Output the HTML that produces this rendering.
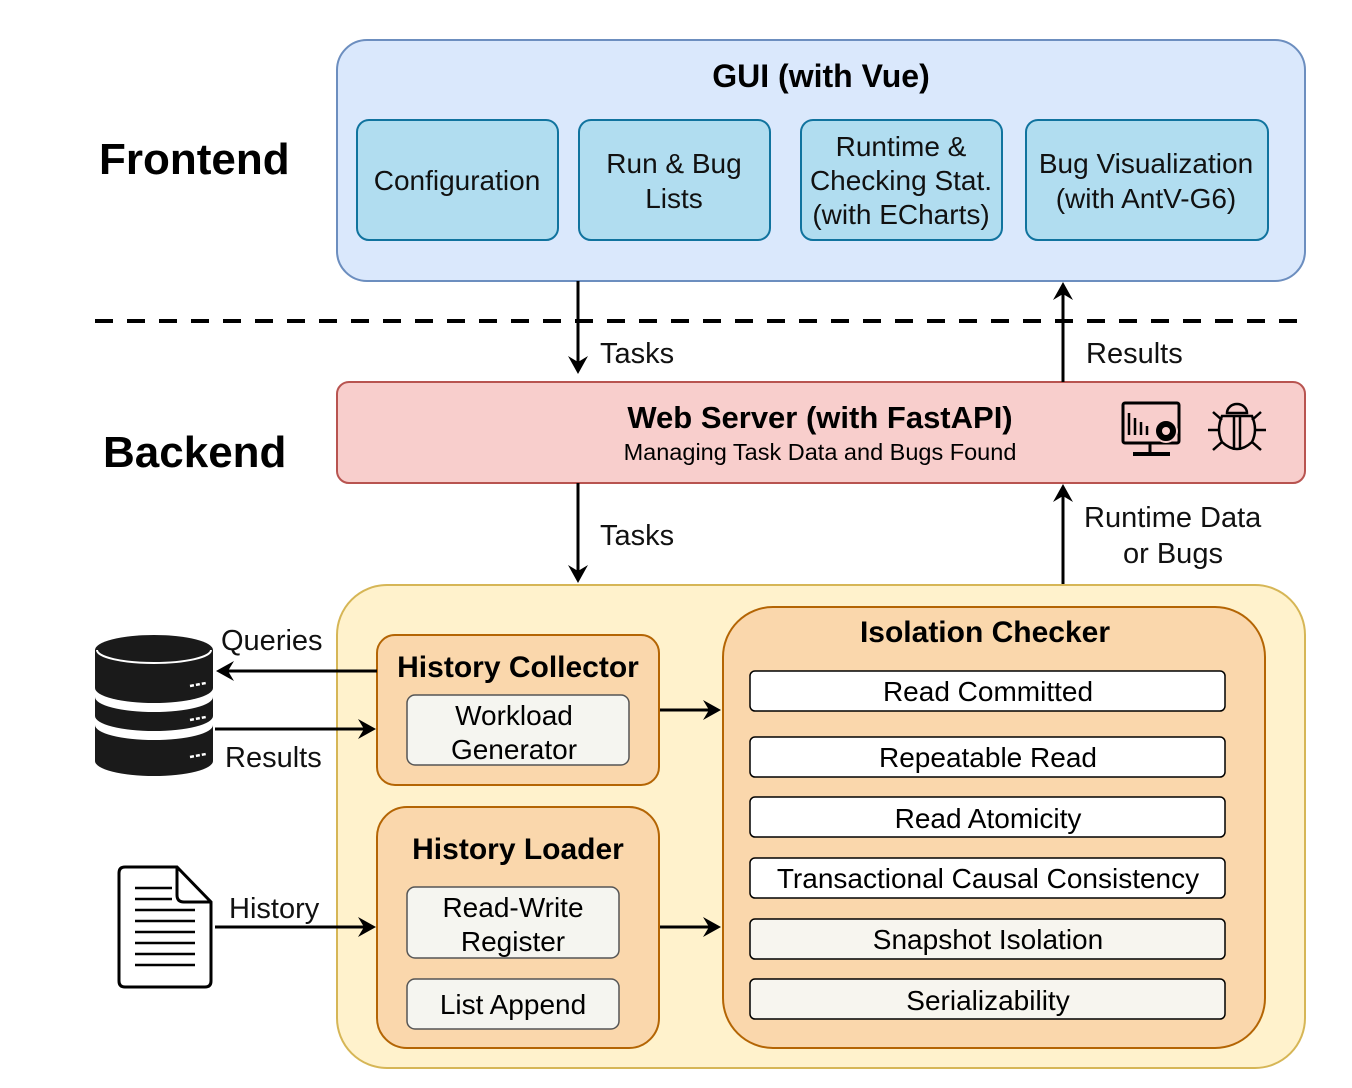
<!DOCTYPE html>
<html><head><meta charset="utf-8"><style>
body{margin:0;background:#fff}
svg{display:block;font-family:"Liberation Sans",Arial,sans-serif}
</style></head><body>
<svg width="1352" height="1088" viewBox="0 0 1352 1088" xmlns="http://www.w3.org/2000/svg">
<!-- GUI -->
<rect x="337" y="40" width="968" height="241" rx="30" fill="#dae8fc" stroke="#6c8ebf" stroke-width="2"/>
<text x="821" y="87" font-size="32" font-weight="bold" text-anchor="middle">GUI (with Vue)</text>
<g fill="#b1ddf0" stroke="#10739e" stroke-width="2">
<rect x="357" y="120" width="201" height="120" rx="12"/>
<rect x="579" y="120" width="191" height="120" rx="12"/>
<rect x="801" y="120" width="201" height="120" rx="12"/>
<rect x="1026" y="120" width="242" height="120" rx="12"/>
</g>
<g font-size="28" text-anchor="middle" fill="#111">
<text x="457" y="190">Configuration</text>
<text x="674" y="173">Run &amp; Bug</text><text x="674" y="208">Lists</text>
<text x="901" y="156">Runtime &amp;</text><text x="901" y="190">Checking Stat.</text><text x="901" y="224">(with ECharts)</text>
<text x="1146" y="173">Bug Visualization</text><text x="1146" y="208">(with AntV-G6)</text>
</g>
<text x="99" y="174" font-size="44" font-weight="bold">Frontend</text>
<text x="103" y="467" font-size="44" font-weight="bold">Backend</text>
<line x1="95" y1="321" x2="1305" y2="321" stroke="#000" stroke-width="4" stroke-dasharray="18,14"/>
<!-- Web server -->
<rect x="337" y="382" width="968" height="101" rx="12" fill="#f8cecc" stroke="#b85450" stroke-width="2"/>
<text x="820" y="428" font-size="31" font-weight="bold" text-anchor="middle">Web Server (with FastAPI)</text>
<text x="820" y="460" font-size="23.5" text-anchor="middle">Managing Task Data and Bugs Found</text>
<!-- monitor icon -->
<g stroke="#000" fill="none" stroke-width="3">
<rect x="1123" y="403" width="56" height="40" rx="2"/>
<line x1="1150" y1="443" x2="1150" y2="452"/>
<line x1="1133" y1="454" x2="1170" y2="454" stroke-width="4"/>
<line x1="1129" y1="413" x2="1129" y2="435" stroke-width="2.5"/>
<line x1="1135" y1="418" x2="1135" y2="435" stroke-width="2.5"/>
<line x1="1141" y1="422" x2="1141" y2="435" stroke-width="2.5"/>
<line x1="1147" y1="426" x2="1147" y2="435" stroke-width="2.5"/>
</g>
<circle cx="1166" cy="431" r="11" fill="#000" stroke="#f8cecc" stroke-width="2"/>
<circle cx="1166" cy="431" r="4" fill="#f8cecc"/>
<!-- bug icon -->
<g stroke="#000" fill="none" stroke-width="2.5">
<path d="M1227 413 A10 9 0 0 1 1247 413 Z"/>
<path d="M1222 416 L1252 416 Q1258 430 1252 442 Q1237 456 1222 442 Q1216 430 1222 416Z"/>
<path d="M1234 417 L1234 450 M1240 417 L1240 450"/>
<path d="M1222 420 L1213 412 M1252 420 L1261 412 M1218 430 L1208 430 M1256 430 L1266 430 M1222 442 L1213 450 M1252 442 L1261 450"/>
</g>
<!-- Big backend box -->
<rect x="337" y="585" width="968" height="483" rx="50" fill="#fff2cc" stroke="#d6b656" stroke-width="2"/>
<rect x="377" y="635" width="282" height="150" rx="18" fill="#fad7ac" stroke="#b46504" stroke-width="2"/>
<text x="518" y="677" font-size="30" font-weight="bold" text-anchor="middle">History Collector</text>
<rect x="407" y="695" width="222" height="70" rx="8" fill="#f5f5f0" stroke="#555" stroke-width="1.5"/>
<text x="514" y="725" font-size="28" text-anchor="middle">Workload</text>
<text x="514" y="759" font-size="28" text-anchor="middle">Generator</text>
<rect x="377" y="807" width="282" height="241" rx="30" fill="#fad7ac" stroke="#b46504" stroke-width="2"/>
<text x="518" y="859" font-size="30" font-weight="bold" text-anchor="middle">History Loader</text>
<rect x="407" y="887" width="212" height="71" rx="8" fill="#f5f5f0" stroke="#555" stroke-width="1.5"/>
<text x="513" y="917" font-size="28" text-anchor="middle">Read-Write</text>
<text x="513" y="951" font-size="28" text-anchor="middle">Register</text>
<rect x="407" y="979" width="212" height="50" rx="8" fill="#f5f5f0" stroke="#555" stroke-width="1.5"/>
<text x="513" y="1014" font-size="28" text-anchor="middle">List Append</text>
<rect x="723" y="607" width="542" height="441" rx="50" fill="#fad7ac" stroke="#b46504" stroke-width="2"/>
<text x="985" y="642" font-size="30" font-weight="bold" text-anchor="middle">Isolation Checker</text>
<g stroke="#000" stroke-width="1.5">
<rect x="750" y="671" width="475" height="40" rx="5" fill="#fff"/>
<rect x="750" y="737" width="475" height="40" rx="5" fill="#fff"/>
<rect x="750" y="797" width="475" height="40" rx="5" fill="#fff"/>
<rect x="750" y="858" width="475" height="40" rx="5" fill="#fff"/>
<rect x="750" y="919" width="475" height="40" rx="5" fill="#f7f5ef"/>
<rect x="750" y="979" width="475" height="40" rx="5" fill="#f7f5ef"/>
</g>
<g font-size="28" text-anchor="middle">
<text x="988" y="701">Read Committed</text>
<text x="988" y="767">Repeatable Read</text>
<text x="988" y="828">Read Atomicity</text>
<text x="988" y="888">Transactional Causal Consistency</text>
<text x="988" y="949">Snapshot Isolation</text>
<text x="988" y="1010">Serializability</text>
</g>
<!-- arrows -->
<g stroke="#000" stroke-width="3" fill="none">
<line x1="578" y1="281" x2="578" y2="366"/>
<line x1="1063" y1="382" x2="1063" y2="290"/>
<line x1="578" y1="483" x2="578" y2="575"/>
<line x1="1063" y1="584" x2="1063" y2="492"/>
<line x1="377" y1="671" x2="226" y2="671"/>
<line x1="215" y1="729" x2="367" y2="729"/>
<line x1="215" y1="927" x2="367" y2="927"/>
<line x1="660" y1="710" x2="713" y2="710"/>
<line x1="660" y1="927" x2="713" y2="927"/>
</g>
<g fill="#000">
<path d="M568 356 L578 374 L588 356 L578 362Z"/>
<path d="M1053 300 L1063 282 L1073 300 L1063 294Z"/>
<path d="M568 565 L578 583 L588 565 L578 571Z"/>
<path d="M1053 502 L1063 484 L1073 502 L1063 496Z"/>
<path d="M234 661 L216 671 L234 681 L228 671Z"/>
<path d="M358 719 L376 729 L358 739 L364 729Z"/>
<path d="M358 917 L376 927 L358 937 L364 927Z"/>
<path d="M703 700 L721 710 L703 720 L709 710Z"/>
<path d="M703 917 L721 927 L703 937 L709 927Z"/>
</g>
<g font-size="29" fill="#111">
<text x="600" y="363">Tasks</text>
<text x="1086" y="363">Results</text>
<text x="600" y="545">Tasks</text>
<text x="1084" y="527">Runtime Data</text>
<text x="1123" y="563">or Bugs</text>
<text x="221" y="650">Queries</text>
<text x="225" y="767">Results</text>
<text x="229" y="918">History</text>
</g>
<!-- DB icon -->
<g fill="#1a1a1a">
<path d="M95 650 A59 15 0 0 1 213 650 L213 688 A59 15 0 0 1 95 688Z"/>
<path d="M95 697 L95 716 A59 15 0 0 0 213 716 L213 697 A59 15 0 0 1 95 697Z"/>
<path d="M95 725 L95 761 A59 15 0 0 0 213 761 L213 725 A59 15 0 0 1 95 725Z"/>
</g>
<path d="M97 650 A57 13 0 0 0 211 650" fill="none" stroke="#fff" stroke-width="2"/>
<g stroke="#fff" stroke-width="2.5" stroke-dasharray="4,2">
<line x1="190" y1="686" x2="206" y2="683"/><line x1="190" y1="720" x2="206" y2="717"/><line x1="190" y1="757" x2="206" y2="754"/>
</g>
<!-- Doc icon -->
<path d="M125 867 L177 867 L211 902 L211 981 Q211 987 205 987 L125 987 Q119 987 119 981 L119 873 Q119 867 125 867Z" fill="#fff" stroke="#000" stroke-width="3"/>
<path d="M177 867 L177 895 Q177 902 184 902 L211 902" fill="none" stroke="#000" stroke-width="3"/>
<g stroke="#000" stroke-width="2.5">
<line x1="135" y1="888" x2="172" y2="888"/><line x1="135" y1="899" x2="172" y2="899"/>
<line x1="135" y1="910" x2="195" y2="910"/><line x1="135" y1="921" x2="195" y2="921"/>
<line x1="135" y1="932" x2="195" y2="932"/><line x1="135" y1="943" x2="195" y2="943"/>
<line x1="135" y1="954" x2="195" y2="954"/><line x1="135" y1="965" x2="195" y2="965"/>
</g>
</svg>
</body></html>
